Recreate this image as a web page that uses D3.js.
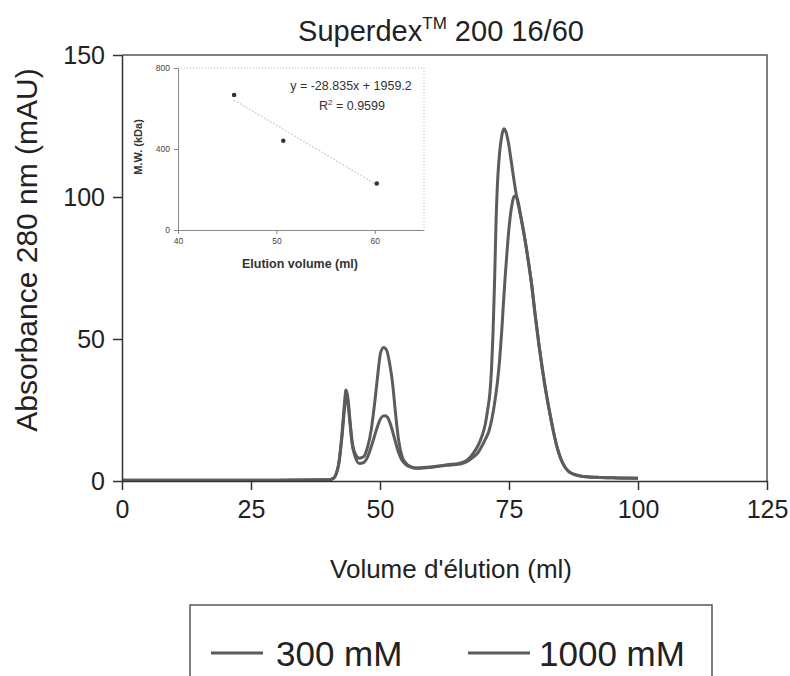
<!DOCTYPE html>
<html>
<head>
<meta charset="utf-8">
<script src="https://cdn.jsdelivr.net/npm/d3@7/dist/d3.min.js"></script>
<style>
  body { margin: 0; background: #fff; }
  svg { display: block; font-family: "Liberation Sans", Arial, sans-serif; }
</style>
</head>
<body>
<svg id="chart"></svg>
<script>
// chromatogramme : [volume (ml), absorbance (mAU)]
var serie300 = [
  [0,0.3],[10,0.3],[20,0.3],[30,0.3],[40,0.4],[41,1],[41.5,2.5],[42,6],[42.6,16],[43.1,27],
  [43.4,32],[43.8,29],[44.2,21],[44.6,14],[45.2,9.5],[46,8],[46.8,8.5],[47.6,12],[48.3,18],
  [49,28],[49.6,38],[50.1,45],[50.7,47],[51.3,46],[51.9,41],[52.4,35],[53,24],[53.6,14.4],
  [54.3,8.5],[55,6.3],[56,5],[57,4.6],[59,4.8],[61,5.2],[63,5.7],[65.5,6.3],[67,7.5],[68.1,9.8],
  [69,12.5],[69.8,16],[70.4,20],[70.9,25.5],[71.3,31],[71.6,39],[71.9,52],[72.2,70],[72.5,92],
  [72.8,106],[73.2,116],[73.6,121.5],[74,124],[74.4,123],[74.9,119],[75.4,113],[76,105.5],[76.6,99],
  [77.3,93],[78,86],[78.7,78],[79.4,69],[80.1,58],[80.8,48],[81.5,39],[82.2,31],[82.9,24],
  [83.6,17.5],[84.3,12],[85,8],[85.8,5],[86.6,3.3],[87.5,2.4],[89,1.7],[92,1.3],[96,1.1],[100,1.0]
];
var serie1000 = [
  [0,0.3],[10,0.3],[20,0.3],[30,0.3],[40,0.4],[41,1],[41.5,2.5],[42,6],[42.6,15],[43.1,25],
  [43.4,30],[43.8,27],[44.2,20],[44.6,13],[45.2,8.5],[46,6.2],[46.8,6.5],[47.6,8.5],[48.2,11.5],
  [48.7,14.4],[49.3,18],[50,21.5],[50.5,22.8],[51,23],[51.6,22],[52.2,19],[52.9,14.4],[53.6,10],
  [54.3,7.2],[55,5.8],[56,4.9],[57,4.5],[59,4.7],[61,5.1],[63,5.5],[65.5,6],[67,7],[68,8.3],
  [69,10],[69.8,12.5],[70.5,15],[71.1,17.5],[71.7,22],[72.3,28.5],[72.8,35.5],[73.2,43],[73.6,53],
  [73.9,62],[74.3,73],[74.8,85],[75.3,94],[75.7,98.5],[76,100.3],[76.4,100.2],[76.8,98],[77.3,93],
  [78,86],[78.7,78],[79.4,69],[80.1,58],[80.8,48],[81.5,39],[82.2,31],[82.9,24],[83.6,17.5],
  [84.3,12],[85,8],[85.8,5],[86.6,3.3],[87.5,2.4],[89,1.7],[92,1.3],[96,1.1],[100,1.0]
];
var ticksX = [0, 25, 50, 75, 100, 125];
var ticksY = [0, 50, 100, 150];
var legende = ["300 mM", "1000 mM"];

// encart : calibration
var calibVolume = [45.7, 50.7, 60.2];
var calibMW = [667, 441, 230];
var pente = -28.835, ordonnee = 1959.2;
var encartTicksX = [40, 50, 60];
var encartTicksY = [0, 400, 800];

var w = 790, h = 676;
var svg = d3.select("#chart").attr("width", w).attr("height", h);

var x = d3.scaleLinear().domain([0, 125]).range([122, 767]);
var y = d3.scaleLinear().domain([0, 150]).range([481, 55]);

var gris = "#5c5c5c";

// courbes
var ligne = d3.line()
  .x(function(d) { return x(d[0]); })
  .y(function(d) { return y(d[1]); })
  .curve(d3.curveMonotoneX);

[serie300, serie1000].forEach(function(s) {
  svg.append("path")
    .datum(s)
    .attr("d", ligne)
    .attr("fill", "none")
    .attr("stroke", gris)
    .attr("stroke-width", 3)
    .attr("stroke-linejoin", "round");
});

// cadre haut et droit
svg.append("path")
  .attr("d", "M" + x(0) + "," + y(150) + "H" + x(125) + "V" + y(0))
  .attr("fill", "none")
  .attr("stroke", "#555")
  .attr("stroke-width", 1.5);

// axes
var axeX = svg.append("g")
  .attr("transform", "translate(0," + y(0) + ")")
  .call(d3.axisBottom(x).tickValues(ticksX).tickSize(9).tickSizeOuter(0).tickPadding(10));
var axeY = svg.append("g")
  .attr("transform", "translate(" + x(0) + ",0)")
  .call(d3.axisLeft(y).tickValues(ticksY).tickSize(9).tickSizeOuter(0).tickPadding(8));

[axeX, axeY].forEach(function(a) {
  a.selectAll("path, line").attr("stroke", "#333").attr("stroke-width", 1.5);
  a.selectAll("text")
    .style("font-size", "25px")
    .style("font-family", "Liberation Sans, Arial, sans-serif")
    .attr("fill", "#222");
});

// titre
var titre = svg.append("text")
  .attr("x", 441).attr("y", 41)
  .attr("text-anchor", "middle")
  .style("font-size", "29px")
  .attr("fill", "#222");
titre.append("tspan").text("Superdex");
titre.append("tspan").attr("dy", -12).style("font-size", "17px").text("TM");
titre.append("tspan").attr("dy", 12).text(" 200 16/60");

// titres des axes
svg.append("text")
  .attr("x", 451).attr("y", 578)
  .attr("text-anchor", "middle")
  .style("font-size", "26px")
  .attr("fill", "#222")
  .text("Volume d'élution (ml)");

svg.append("text")
  .attr("transform", "translate(37,250) rotate(-90)")
  .attr("text-anchor", "middle")
  .style("font-size", "30px")
  .attr("fill", "#222")
  .text("Absorbance 280 nm (mAU)");

// légende
svg.append("rect")
  .attr("x", 190).attr("y", 605)
  .attr("width", 522).attr("height", 120)
  .attr("fill", "none")
  .attr("stroke", "#555")
  .attr("stroke-width", 1.5);

var posLegende = [{ x1: 211, x2: 263, tx: 276 }, { x1: 468, x2: 530, tx: 539 }];
legende.forEach(function(nom, i) {
  var p = posLegende[i];
  svg.append("line")
    .attr("x1", p.x1).attr("x2", p.x2)
    .attr("y1", 653).attr("y2", 653)
    .attr("stroke", gris).attr("stroke-width", 3);
  svg.append("text")
    .attr("x", p.tx).attr("y", 666)
    .style("font-size", "35px")
    .attr("fill", "#222")
    .text(nom);
});

// ---- encart ----
var ix = d3.scaleLinear().domain([40, 65]).range([178, 424]);
var iy = d3.scaleLinear().domain([0, 800]).range([230, 68]);

// bord pointille haut / droite
svg.append("path")
  .attr("d", "M" + ix(40) + "," + iy(800) + "H" + ix(65) + "V" + iy(0))
  .attr("fill", "none")
  .attr("stroke", "#bbb")
  .attr("stroke-width", 1)
  .attr("stroke-dasharray", "1,2");

var iAxeX = svg.append("g")
  .attr("transform", "translate(0," + iy(0) + ")")
  .call(d3.axisBottom(ix).tickValues(encartTicksX).tickSize(4).tickSizeOuter(0).tickPadding(4));
var iAxeY = svg.append("g")
  .attr("transform", "translate(" + ix(40) + ",0)")
  .call(d3.axisLeft(iy).tickValues(encartTicksY).tickSize(4).tickSizeOuter(0).tickPadding(4));

[iAxeX, iAxeY].forEach(function(a) {
  a.selectAll("path, line").attr("stroke", "#888").attr("stroke-width", 1);
  a.selectAll("text")
    .style("font-size", "8.5px")
    .style("font-family", "Liberation Sans, Arial, sans-serif")
    .attr("fill", "#444");
});

// droite de regression
svg.append("line")
  .attr("x1", ix(calibVolume[0])).attr("y1", iy(pente * calibVolume[0] + ordonnee))
  .attr("x2", ix(calibVolume[2])).attr("y2", iy(pente * calibVolume[2] + ordonnee))
  .attr("stroke", "#aaa")
  .attr("stroke-width", 1)
  .attr("stroke-dasharray", "1.5,2");

// points
svg.selectAll(".calib")
  .data(calibVolume)
  .enter()
  .append("circle")
  .attr("class", "calib")
  .attr("cx", function(d) { return ix(d); })
  .attr("cy", function(d, i) { return iy(calibMW[i]); })
  .attr("r", 2.3)
  .attr("fill", "#333");

svg.append("text")
  .attr("x", 351).attr("y", 90)
  .attr("text-anchor", "middle")
  .style("font-size", "12.5px")
  .attr("fill", "#333")
  .text("y = -28.835x + 1959.2");

var r2 = svg.append("text")
  .attr("x", 352).attr("y", 110)
  .attr("text-anchor", "middle")
  .style("font-size", "12.5px")
  .attr("fill", "#333");
r2.append("tspan").text("R");
r2.append("tspan").attr("dy", -5).style("font-size", "8px").text("2");
r2.append("tspan").attr("dy", 5).text(" = 0.9599");

svg.append("text")
  .attr("x", 300).attr("y", 268)
  .attr("text-anchor", "middle")
  .style("font-size", "12.5px")
  .style("font-weight", "bold")
  .attr("fill", "#333")
  .text("Elution volume (ml)");

svg.append("text")
  .attr("transform", "translate(142,147) rotate(-90)")
  .attr("text-anchor", "middle")
  .style("font-size", "11px")
  .style("font-weight", "bold")
  .attr("fill", "#333")
  .text("M.W. (kDa)");
</script>
</body>
</html>
